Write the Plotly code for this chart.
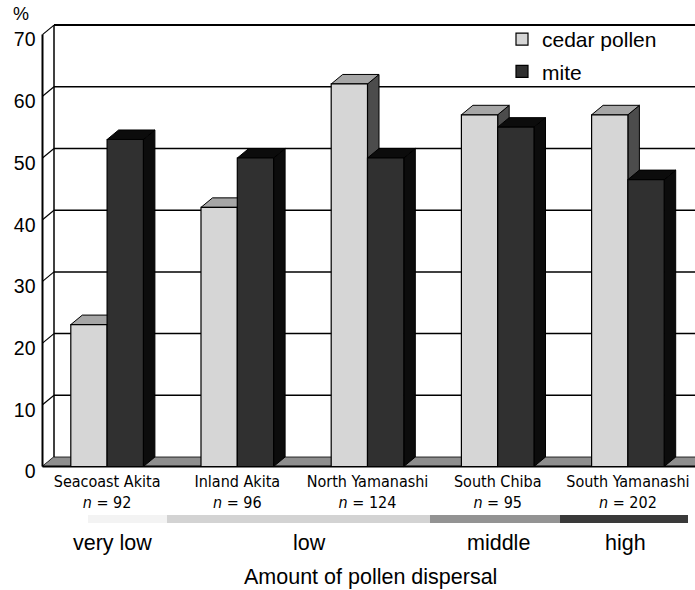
import plotly.graph_objects as go

# ---------------- data ----------------
REGIONS = ["Seacoast Akita", "Inland Akita", "North Yamanashi", "South Chiba", "South Yamanashi"]
N_SUBJECTS = [92, 96, 124, 95, 202]
CEDAR = [23, 42, 62, 57, 57]
MITE = [53, 50, 50, 55, 46.5]
SERIES = ["cedar pollen", "mite"]
Y_TICKS = [0, 10, 20, 30, 40, 50, 60, 70]
LEVELS = ["very low", "low", "middle", "high"]
AXIS_TITLE = "Amount of pollen dispersal"
UNIT = "%"

# ---------------- geometry (pixel layout of the page) ----------------
W, H = 695, 590
PX_Y0, PX_PER_Y = 466.5, 6.17      # front zero line and pixels per %
PX_X0, PX_PER_X = 107.1, 130.2     # first group centre and group spacing


def u(px):
    return (px - PX_X0) / PX_PER_X


def v(py):
    return (PX_Y0 - py) / PX_PER_Y


BAR_W = 36.3 / PX_PER_X
DX = 11.5 / PX_PER_X
DY = 9.5 / PX_PER_Y
AXIS_X = u(42.5)
RIGHT = u(W)
YTOP = Y_TICKS[-1]

FONT = "Liberation Sans, Arial, Helvetica, sans-serif"
NARROW = "DejaVu Sans Condensed, Liberation Sans, sans-serif"

CEDAR_FRONT, CEDAR_TOP, CEDAR_SIDE = "#d6d6d6", "#a6a6a6", "#4c4c4c"
MITE_FRONT, MITE_TOP, MITE_SIDE = "#303030", "#0c0c0c", "#0c0c0c"

shapes = []


def line(x0, y0, x1, y1, w=1.5, c="black"):
    shapes.append(dict(type="line", xref="x", yref="y", x0=x0, y0=y0, x1=x1, y1=y1,
                       line=dict(color=c, width=w), layer="below"))


def poly(pts, fill, lc="black", lw=1):
    d = "M " + " L ".join(f"{x},{y}" for x, y in pts) + " Z"
    shapes.append(dict(type="path", xref="x", yref="y", path=d, fillcolor=fill,
                       line=dict(color=lc, width=lw), layer="below"))


# back wall grid
for t in Y_TICKS[1:]:
    line(AXIS_X + DX, t + DY, RIGHT, t + DY, w=2 if t == YTOP else 1.5)
line(AXIS_X + DX, DY, AXIS_X + DX, YTOP + DY, w=1.5)
for t in Y_TICKS:
    line(AXIS_X, t, AXIS_X + DX, t + DY, w=1.2)

# floor
poly([(AXIS_X, 0), (RIGHT, 0), (RIGHT + DX, DY), (AXIS_X + DX, DY)], "#8e8e8e", lc="rgba(0,0,0,0)", lw=0)
line(AXIS_X, 0, RIGHT, 0, w=2)
line(AXIS_X + DX, DY, RIGHT, DY, w=0.8)
# front value axis
line(AXIS_X, 0, AXIS_X, YTOP, w=2)

# 3-D faces of the bars (computed from the data)
for i in range(len(REGIONS)):
    for vals, off, topc, sidec in ((CEDAR, -BAR_W, CEDAR_TOP, CEDAR_SIDE),
                                   (MITE, 0.0, MITE_TOP, MITE_SIDE)):
        val = vals[i]
        x0 = i + off
        x1 = x0 + BAR_W
        poly([(x1, 0), (x1, val), (x1 + DX, val + DY), (x1 + DX, DY)], sidec)
        poly([(x0, val), (x1, val), (x1 + DX, val + DY), (x0 + DX, val + DY)], topc)

# dispersal gradient band
BAND = [(88, 167, "#f3f3f3"), (167, 430, "#d3d3d3"), (430, 560, "#939393"), (560, 688, "#3a3a3a")]
for a, b, c in BAND:
    shapes.append(dict(type="rect", xref="x", yref="y", x0=u(a), x1=u(b), y0=v(523), y1=v(515),
                       fillcolor=c, line=dict(width=0), layer="below"))

fig = go.Figure()
fig.add_trace(go.Bar(x=list(range(len(REGIONS))), y=CEDAR, base=0, offset=-BAR_W, width=BAR_W,
                     name=SERIES[0], legendgroup="a",
                     marker=dict(color=CEDAR_FRONT, line=dict(color="black", width=1.2))))
fig.add_trace(go.Bar(x=list(range(len(REGIONS))), y=MITE, base=0, offset=0, width=BAR_W,
                     name=SERIES[1], legendgroup="b",
                     marker=dict(color=MITE_FRONT, line=dict(color="black", width=1.2))))

ticktext = [f"{r}<br><i>n</i> = {n}" for r, n in zip(REGIONS, N_SUBJECTS)]

annotations = [dict(text=UNIT, x=u(21), y=v(14), xref="x", yref="y", showarrow=False,
                    font=dict(family=FONT, size=18, color="black"))]
LEVEL_PX = [112, 309, 498, 625]
for lab, px in zip(LEVELS, LEVEL_PX):
    annotations.append(dict(text=lab, x=u(px), y=v(543), xref="x", yref="y", showarrow=False,
                            font=dict(family=FONT, size=21.5, color="black")))
annotations.append(dict(text=AXIS_TITLE, x=u(370), y=v(577), xref="x", yref="y", showarrow=False,
                        font=dict(family=FONT, size=21.5, color="black")))

fig.update_layout(
    template="none",
    width=W, height=H,
    margin=dict(l=0, r=0, t=0, b=0, pad=0),
    paper_bgcolor="white", plot_bgcolor="white",
    barmode="overlay",
    shapes=shapes,
    annotations=annotations,
    showlegend=True,
    legend=dict(x=502 / W, y=1 - 19 / H, xanchor="left", yanchor="top",
                font=dict(family=FONT, size=21, color="black"),
                bgcolor="rgba(0,0,0,0)", borderwidth=0,
                traceorder="grouped", tracegroupgap=2),
    xaxis=dict(range=[u(0), u(W)], showgrid=False, zeroline=False, showline=False,
               tickmode="array", tickvals=list(range(len(REGIONS))), ticktext=ticktext,
               ticks="", anchor="free", position=(H - 470) / H, automargin=False,
               ticklabeloverflow="allow",
               tickfont=dict(family=NARROW, size=16, color="black")),
    yaxis=dict(range=[v(H), v(0)], showgrid=False, zeroline=False, showline=False,
               tickmode="array", tickvals=Y_TICKS, ticktext=[str(t) for t in Y_TICKS],
               ticks="", anchor="free", position=42.5 / W, side="left", automargin=False,
               ticklabelstandoff=7, ticklabelshift=5,
               tickfont=dict(family=FONT, size=19.5, color="black")),
)

fig.write_html("out.html")
